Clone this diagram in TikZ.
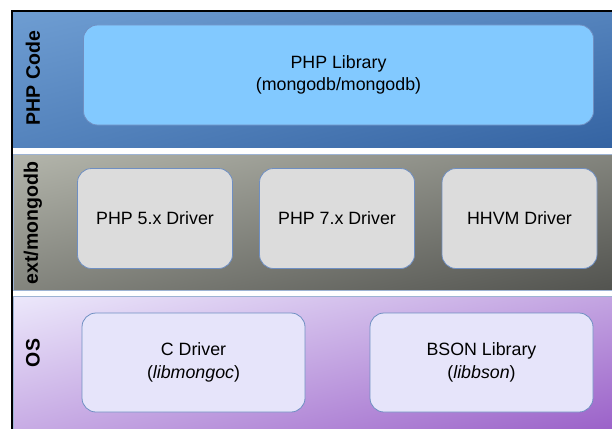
\documentclass[tikz,border=0pt]{standalone}
\usepackage{fontspec}
\setmainfont{Liberation Sans}
\usetikzlibrary{positioning,shadings}

\definecolor{codetop}{HTML}{6E9DD2}
\definecolor{codebot}{HTML}{3463A2}
\definecolor{extop}{HTML}{B3B5AB}
\definecolor{exbot}{HTML}{52534F}
\definecolor{ostop}{HTML}{ECE8FB}
\definecolor{osbot}{HTML}{9A60C8}
\definecolor{libfill}{HTML}{82C9FF}
\definecolor{drvfill}{HTML}{DCDCDC}
\definecolor{osfill}{HTML}{E6E4FA}
\definecolor{edgeblue}{HTML}{6F8FC2}
\definecolor{sepline}{HTML}{9DB3D3}

\tikzset{
  layerbox/.style={draw=sepline, line width=1pt},
  partbox/.style={draw=edgeblue, line width=0.8pt, rounded corners=14pt,
    align=center, font=\fontsize{17.8}{22.5}\selectfont, inner sep=0pt},
  layername/.style={rotate=90, font=\bfseries\fontsize{19.5}{23}\selectfont}
}

\begin{document}
\begin{tikzpicture}[x=1pt,y=-1pt]
\useasboundingbox (0,0) rectangle (612,428);
\fill[white] (0,0) rectangle (612,428);

% layers
\shade[upper left=codetop, lower right=codebot,
  upper right=codetop!55!codebot, lower left=codetop!55!codebot]
  (13,12) rectangle (614,147);
\shade[layerbox, upper left=extop, lower right=exbot,
  upper right=extop!50!exbot, lower left=extop!50!exbot]
  (13,154.5) rectangle (614,290.5);
\shade[layerbox, upper left=ostop, lower right=osbot,
  upper right=ostop!50!osbot, lower left=ostop!55!osbot]
  (13,296.5) rectangle (614,432);

% frame
\draw[line width=2pt] (12,432) -- (12,11) -- (614,11);

% layer names
\node[layername] (code) at (33,78) {PHP Code};
\node[layername] (ext) at (33,223) {ext/mongodb};
\node[layername] (os) at (33,353) {OS};

% PHP Code
\node[partbox, fill=libfill, minimum width=510pt, minimum height=100pt]
  (lib) at (338.5,75) {PHP Library\\(mongodb/mongodb)};

% ext/mongodb
\node[partbox, fill=drvfill, minimum width=155pt, minimum height=100pt]
  (php5) at (155,218.5) {PHP 5.x Driver};
\node[partbox, fill=drvfill, minimum width=155pt, minimum height=100pt]
  (php7) at (337,218.5) {PHP 7.x Driver};
\node[partbox, fill=drvfill, minimum width=155pt, minimum height=100pt]
  (hhvm) at (519.5,218.5) {HHVM Driver};

% OS
\node[partbox, fill=osfill, minimum width=223pt, minimum height=99pt]
  (cdrv) at (193.5,362.5) {C Driver\\(\textit{libmongoc})};
\node[partbox, fill=osfill, minimum width=223pt, minimum height=99pt]
  (bson) at (481.5,362.5) {BSON Library\\(\textit{libbson})};

\end{tikzpicture}
\end{document}
